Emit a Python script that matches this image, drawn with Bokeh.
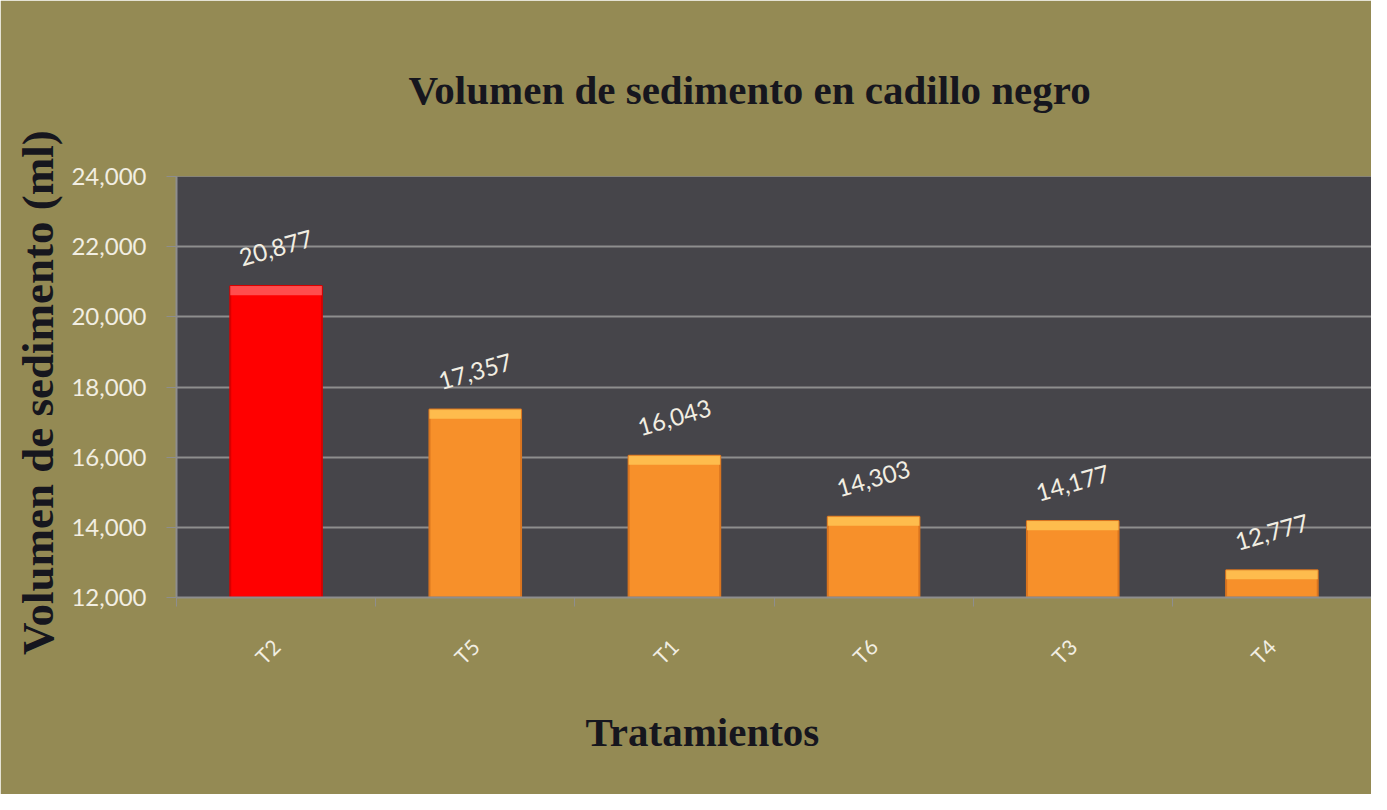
from math import pi
from bokeh.plotting import figure
from bokeh.models import (ColumnDataSource, Range1d, FixedTicker, NumeralTickFormatter,
                          CustomJSTickFormatter, LabelSet, Title)
from bokeh.core.properties import value
from bokeh.embed import file_html
from bokeh.resources import INLINE

categories = ["T2", "T5", "T1", "T6", "T3", "T4"]
values = [20877, 17357, 16043, 14303, 14177, 12777]
bar_colors = ["#FF0000", "#F7902A", "#F7902A", "#F7902A", "#F7902A", "#F7902A"]
top_colors = ["#FF5A5A", "#FFC453", "#FFC453", "#FFC453", "#FFC453", "#FFC453"]
edge_colors = ["#D80000", "#D9741F", "#D9741F", "#D9741F", "#D9741F", "#D9741F"]
y_ticks = [12000, 14000, 16000, 18000, 20000, 22000, 24000]

OLIVE = "#948A54"
DARK = "#46454A"
GRID = "#8E8E8E"
CREAM = "#F2EEE2"
INK = "#16161E"

xs = [i + 0.5 for i in range(len(categories))]
src = ColumnDataSource(dict(
    x=xs, cat=categories, val=values, color=bar_colors, top=top_colors, edge=edge_colors,
    top_bottom=[v - 260 for v in values],
    label=[f"{v:,}" for v in values],
))

p = figure(width=1371, height=794, output_backend="svg", toolbar_location=None,
           x_range=Range1d(0, len(categories)), y_range=Range1d(y_ticks[0], y_ticks[-1]),
           min_border_left=176, min_border_right=0, min_border_top=175, min_border_bottom=197)
p.border_fill_color = OLIVE
p.background_fill_color = DARK
p.outline_line_color = None

W = 0.46
p.vbar(x="x", top="val", bottom=y_ticks[0], width=W, fill_color="color",
       line_color="edge", line_width=2, source=src)
p.vbar(x="x", top="val", bottom="top_bottom", width=W, fill_color="top",
       line_color=None, fill_alpha=0.85, source=src)

lbl = LabelSet(x="x", y="val", text="label", source=src, y_offset=38, angle=0.28,
               text_align="center", text_baseline="middle", text_color=CREAM,
               text_font=value("Lato"), text_font_size=value("24px"))
p.add_layout(lbl)

# grid
p.xgrid.grid_line_color = None
p.ygrid.grid_line_color = GRID
p.ygrid.grid_line_width = 2
p.ygrid.ticker = FixedTicker(ticks=y_ticks)

# y axis
p.yaxis.ticker = FixedTicker(ticks=y_ticks)
p.yaxis.formatter = NumeralTickFormatter(format="0,0")
p.yaxis.axis_line_color = GRID
p.yaxis.axis_line_width = 2
p.yaxis.major_tick_line_color = GRID
p.yaxis.major_tick_out = 10
p.yaxis.major_tick_in = 0
p.yaxis.minor_tick_line_color = None
p.yaxis.major_label_text_color = CREAM
p.yaxis.major_label_text_font = "Lato"
p.yaxis.major_label_text_font_size = "24px"
p.yaxis.major_label_standoff = 20
p.yaxis.axis_label = "Volumen de sedimento  (ml)"
p.yaxis.axis_label_text_font = "Liberation Serif"
p.yaxis.axis_label_text_font_style = "bold"
p.yaxis.axis_label_text_font_size = "45px"
p.yaxis.axis_label_text_color = INK
p.yaxis.axis_label_standoff = 5

# x axis
p.xaxis.ticker = FixedTicker(ticks=xs, minor_ticks=list(range(len(categories) + 1)))
p.xaxis.formatter = CustomJSTickFormatter(args=dict(cats=categories),
                                          code="return cats[Math.floor(tick)];")
p.xaxis.axis_line_color = GRID
p.xaxis.axis_line_width = 2
p.xaxis.major_tick_out = 0
p.xaxis.major_tick_in = 0
p.xaxis.minor_tick_line_color = GRID
p.xaxis.minor_tick_out = 9
p.xaxis.minor_tick_in = 0
p.xaxis.major_label_orientation = pi / 4
p.xaxis.major_label_text_color = CREAM
p.xaxis.major_label_text_font = "Lato"
p.xaxis.major_label_text_font_size = "21px"
p.xaxis.major_label_standoff = 36

p.add_layout(Title(text="Volumen de sedimento en cadillo negro", align="left", offset=232,
                   standoff=128, text_font="Liberation Serif", text_font_style="bold",
                   text_font_size="41px", text_color=INK), "above")
p.add_layout(Title(text="Tratamientos", align="left", offset=409, standoff=52,
                   text_font="Liberation Serif", text_font_style="bold",
                   text_font_size="41px", text_color=INK), "below")

open("out.html", "w").write(file_html(p, INLINE))
